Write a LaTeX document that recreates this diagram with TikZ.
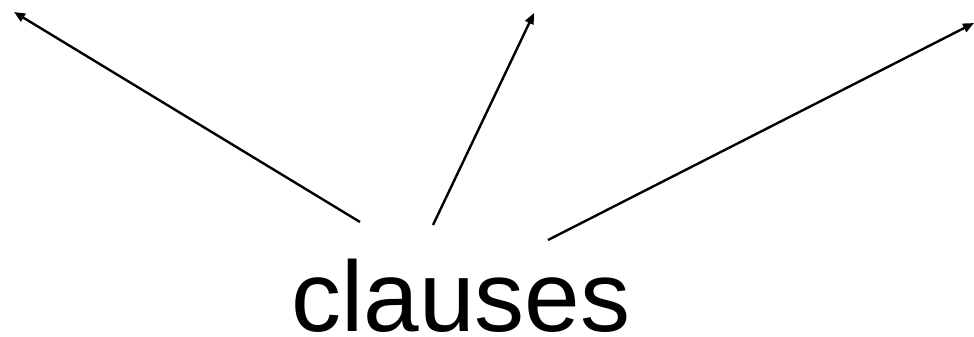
\documentclass[tikz,border=0pt]{standalone}
\usepackage{fontspec}
\setmainfont{Liberation Sans}
\usetikzlibrary{arrows.meta}
\begin{document}
\begin{tikzpicture}[x=1pt,y=-1pt,
  conn/.style={line width=2.4pt,-{Triangle[length=11pt,width=9pt]}},
  word/.style={font=\fontsize{100}{100}\selectfont,inner sep=0pt,anchor=base}]
\useasboundingbox (0,0) rectangle (974,337);
\node[word] (c) at (461,331) {clauses};
\coordinate (s1) at (360,222);
\coordinate (s2) at (433,225);
\coordinate (s3) at (548,240);
\coordinate (t1) at (14,12);
\coordinate (t2) at (534,13);
\coordinate (t3) at (974,23);
\draw[conn] (s1) -- (t1);
\draw[conn] (s2) -- (t2);
\draw[conn] (s3) -- (t3);
\end{tikzpicture}
\end{document}
